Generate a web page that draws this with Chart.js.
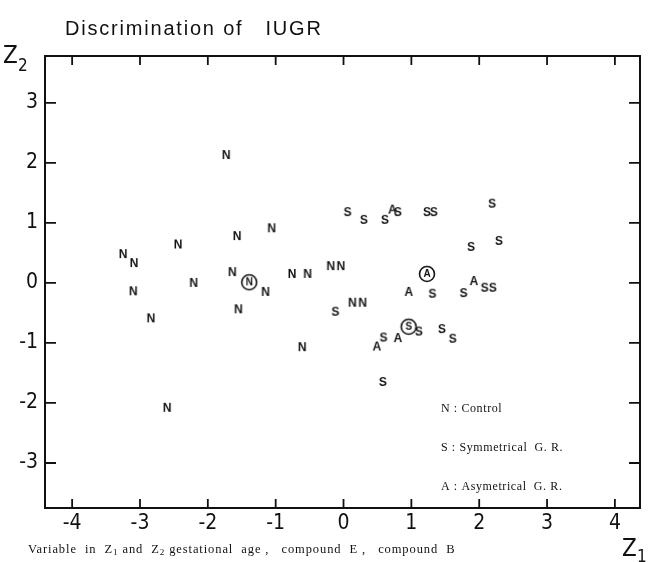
<!DOCTYPE html>
<html>
<head>
<meta charset="utf-8">
<script src="https://cdn.jsdelivr.net/npm/chart.js@4.4.1/dist/chart.umd.min.js"></script>
<style>
  html, body { margin: 0; padding: 0; background: #fff; }
  #wrap { width: 648px; height: 562px; }
</style>
</head>
<body>
<div id="wrap"><canvas id="chart"></canvas></div>
<script>
// values (Z1, Z2)
var controlPts = [
  [-1.73, 2.13], [-3.25, 0.48], [-3.09, 0.33], [-2.44, 0.64], [-1.57, 0.78],
  [-1.06, 0.91], [-1.64, 0.18], [-2.21, 0.00], [-0.76, 0.15], [-0.53, 0.15],
  [-0.19, 0.28], [-0.04, 0.28], [-3.10, -0.14], [-2.84, -0.59], [-1.15, -0.15],
  [-1.55, -0.44], [-0.61, -1.07], [-2.60, -2.08], [0.13, -0.33], [0.28, -0.33]
];
var controlCircled = [[-1.39, 0.01]];
var symPts = [
  [0.06, 1.18], [0.30, 1.05], [0.61, 1.05], [0.80, 1.18], [1.23, 1.18],
  [1.33, 1.18], [2.19, 1.32], [1.88, 0.60], [2.29, 0.70], [2.08, -0.08],
  [2.20, -0.08], [1.31, -0.18], [1.77, -0.17], [-0.12, -0.48], [1.11, -0.81],
  [1.45, -0.77], [1.61, -0.93], [0.59, -0.91], [0.58, -1.65]
];
var symCircled = [[0.96, -0.73]];
var asymPts = [[0.72, 1.22], [1.92, 0.03], [0.96, -0.15], [0.80, -0.92], [0.49, -1.06]];
var asymCircled = [[1.23, 0.15]];

var xTicks = [-4, -3, -2, -1, 0, 1, 2, 3, 4];
var yTicks = [-3, -2, -1, 0, 1, 2, 3];
var legendLines = ['N : Control', 'S : Symmetrical  G. R.', 'A : Asymetrical  G. R.'];

function toXY(list) {
  return list.map(function (p) { return { x: p[0], y: p[1] }; });
}

// small canvases used as point styles (letter markers)
function letterMark(ch, circled) {
  var size = circled ? 20 : 16;
  var cv = document.createElement('canvas');
  cv.width = size; cv.height = size;
  var c = cv.getContext('2d');
  c.fillStyle = '#111';
  c.strokeStyle = '#111';
  c.textAlign = 'center';
  c.textBaseline = 'middle';
  c.font = (circled ? 'bold 10px' : 'bold 12px') + ' "Liberation Sans", Arial, sans-serif';
  c.fillText(ch, size / 2, size / 2 + 0.5);
  if (circled) {
    c.lineWidth = 1.6;
    c.beginPath();
    c.arc(size / 2, size / 2, 7.5, 0, Math.PI * 2);
    c.stroke();
  }
  return cv;
}

var framePlugin = {
  id: 'frame',
  afterDraw: function (chart) {
    var ctx = chart.ctx;
    var a = chart.chartArea;
    var xs = chart.scales.x, ys = chart.scales.y;
    ctx.save();
    ctx.strokeStyle = '#111';
    ctx.lineWidth = 2;
    ctx.strokeRect(a.left, a.top, a.right - a.left, a.bottom - a.top);
    ctx.lineWidth = 1.8;
    ctx.beginPath();
    xTicks.forEach(function (v) {
      var px = xs.getPixelForValue(v);
      ctx.moveTo(px, a.bottom); ctx.lineTo(px, a.bottom - 9);
      ctx.moveTo(px, a.top); ctx.lineTo(px, a.top + 9);
    });
    yTicks.forEach(function (v) {
      var py = ys.getPixelForValue(v);
      ctx.moveTo(a.left, py); ctx.lineTo(a.left + 11, py);
      ctx.moveTo(a.right, py); ctx.lineTo(a.right - 11, py);
    });
    ctx.stroke();

    ctx.fillStyle = '#111';
    ctx.textBaseline = 'alphabetic';
    // title
    ctx.font = '20px "Liberation Sans", Arial, sans-serif';
    ctx.letterSpacing = '1.8px';
    ctx.textAlign = 'left';
    ctx.fillText('Discrimination of   IUGR', 65, 35);
    ctx.letterSpacing = '0px';

    // axis names
    ctx.font = '24px "Liberation Sans Narrow", "DejaVu Sans Condensed", sans-serif';
    ctx.fillText('Z', 3, 63);
    ctx.fillText('Z', 622, 556);
    ctx.font = '17px "Liberation Sans Narrow", "DejaVu Sans Condensed", sans-serif';
    ctx.fillText('2', 18, 71);
    ctx.fillText('1', 637, 562);

    // legend text in the plot
    ctx.font = '12px "Liberation Serif", "DejaVu Serif", serif';
    ctx.letterSpacing = '0.6px';
    var ly = [412, 451, 490];
    legendLines.forEach(function (t, i) { ctx.fillText(t, 441, ly[i]); });

    // caption
    ctx.letterSpacing = '0.9px';
    var cx = 28, cy = 553;
    var parts = [['Variable  in  Z', 0], ['1', 1], [' and  Z', 0], ['2', 1],
      [' gestational  age ,   compound  E ,   compound  B', 0]];
    parts.forEach(function (p) {
      if (p[1]) {
        ctx.font = '9px "Liberation Serif", "DejaVu Serif", serif';
        ctx.fillText(p[0], cx, cy + 2);
      } else {
        ctx.font = '12.5px "Liberation Serif", "DejaVu Serif", serif';
        ctx.fillText(p[0], cx, cy);
      }
      cx += ctx.measureText(p[0]).width;
    });
    ctx.restore();
  }
};

var tickFont = { family: '"Liberation Sans Narrow", "DejaVu Sans Condensed", sans-serif', size: 21 };

new Chart(document.getElementById('chart'), {
  type: 'scatter',
  data: {
    datasets: [
      { label: 'N', data: toXY(controlPts), pointStyle: letterMark('N', false) },
      { label: 'N circled', data: toXY(controlCircled), pointStyle: letterMark('N', true) },
      { label: 'S', data: toXY(symPts), pointStyle: letterMark('S', false) },
      { label: 'S circled', data: toXY(symCircled), pointStyle: letterMark('S', true) },
      { label: 'A', data: toXY(asymPts), pointStyle: letterMark('A', false) },
      { label: 'A circled', data: toXY(asymCircled), pointStyle: letterMark('A', true) }
    ]
  },
  options: {
    responsive: true,
    maintainAspectRatio: false,
    animation: false,
    layout: { padding: { top: 56, right: 8, left: 0, bottom: 0 } },
    plugins: { legend: { display: false }, title: { display: false }, tooltip: { enabled: false } },
    scales: {
      x: {
        type: 'linear', min: -4.4, max: 4.37,
        afterBuildTicks: function (s) { s.ticks = xTicks.map(function (v) { return { value: v }; }); },
        afterFit: function (s) { s.height = 54; },
        grid: { display: false, drawTicks: false },
        border: { display: false },
        ticks: { color: '#111', font: tickFont, padding: 3, maxRotation: 0 }
      },
      y: {
        type: 'linear', min: -3.75, max: 3.78,
        afterBuildTicks: function (s) { s.ticks = yTicks.map(function (v) { return { value: v }; }); },
        afterFit: function (s) { s.width = 45; },
        grid: { display: false, drawTicks: false },
        border: { display: false },
        ticks: { color: '#111', font: tickFont, padding: 7 }
      }
    }
  },
  plugins: [framePlugin]
});
</script>
</body>
</html>
